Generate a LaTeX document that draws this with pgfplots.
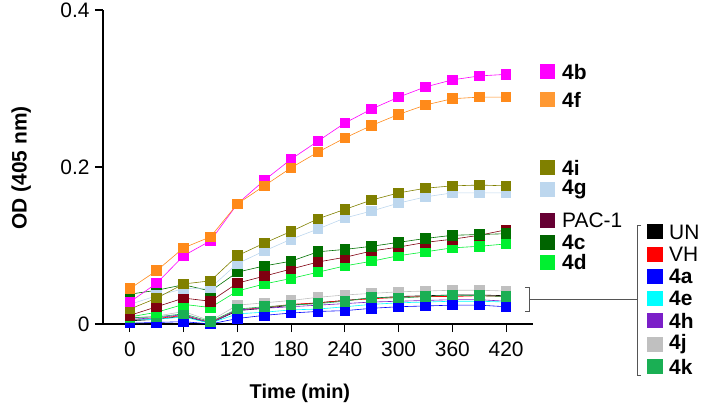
\documentclass[border=0pt]{standalone}
\usepackage{pgfplots}
\usepackage{pgfplotstable}
\pgfplotsset{compat=1.18}
\usepackage{fontspec}
\setmainfont{Liberation Sans}

\definecolor{cB}{HTML}{FF00FF}
\definecolor{cF}{HTML}{FF8A1A}
\definecolor{cFleg}{HTML}{FF9933}
\definecolor{cI}{HTML}{808000}
\definecolor{cG}{HTML}{BDD7EE}
\definecolor{cPAC}{HTML}{800010}
\definecolor{cPACleg}{HTML}{660033}
\definecolor{cC}{HTML}{007000}
\definecolor{cCleg}{HTML}{006400}
\definecolor{cD}{HTML}{00F030}
\definecolor{cUN}{HTML}{000000}
\definecolor{cVH}{HTML}{FF0000}
\definecolor{cA}{HTML}{0000FF}
\definecolor{cE}{HTML}{00FFFF}
\definecolor{cH}{HTML}{7B1FC8}
\definecolor{cJ}{HTML}{C0C0C0}
\definecolor{cK}{HTML}{1AAF54}
\definecolor{brk}{HTML}{555555}

\pgfplotstableread{
t   b      f      i      g      pac    c      d
0   0.028  0.045  0.019  0.025  0.011  0.038  0.009
30  0.052  0.068  0.033  0.036  0.022  0.043  0.015
60  0.087  0.097  0.051  0.045  0.033  0.050  0.025
90  0.106  0.111  0.055  0.046  0.029  0.042  0.021
120 0.153  0.153  0.087  0.077  0.052  0.066  0.042
150 0.183  0.176  0.103  0.093  0.061  0.074  0.051
180 0.210  0.199  0.118  0.108  0.070  0.080  0.058
210 0.233  0.219  0.134  0.121  0.079  0.092  0.066
240 0.256  0.237  0.146  0.135  0.085  0.095  0.074
270 0.274  0.253  0.158  0.144  0.093  0.099  0.080
300 0.289  0.267  0.167  0.154  0.098  0.104  0.087
330 0.302  0.279  0.173  0.162  0.104  0.109  0.092
360 0.311  0.287  0.176  0.167  0.108  0.113  0.097
390 0.316  0.289  0.177  0.167  0.113  0.114  0.099
420 0.318  0.289  0.176  0.167  0.120  0.115  0.102
}\tabup

\pgfplotstableread{
t   un     vh     a      e      h      j      k
0   0.004  0.005  0.001  0.005  0.006  0.008  0.008
30  0.006  0.007  0.002  0.006  0.008  0.010  0.009
60  0.010  0.011  0.003  0.009  0.012  0.016  0.013
90  0.001  0.002  0.000  0.001  0.001  0.004  0.003
120 0.017  0.018  0.007  0.013  0.018  0.024  0.019
150 0.020  0.021  0.011  0.015  0.020  0.027  0.022
180 0.024  0.025  0.014  0.018  0.022  0.030  0.024
210 0.027  0.027  0.016  0.019  0.024  0.034  0.026
240 0.030  0.030  0.017  0.022  0.026  0.037  0.029
270 0.033  0.032  0.020  0.025  0.028  0.039  0.034
300 0.035  0.034  0.022  0.027  0.029  0.041  0.033
330 0.036  0.035  0.023  0.028  0.030  0.042  0.035
360 0.037  0.035  0.024  0.029  0.031  0.043  0.037
390 0.037  0.036  0.024  0.029  0.031  0.043  0.036
420 0.036  0.035  0.022  0.028  0.029  0.042  0.035
}\tablow

\pgfplotsset{
  ser/.style={color=#1, line width=0.6pt, mark=square*, mark size=4.8pt,
    mark options={solid, fill=#1, draw=#1, line width=0pt}},
}

\begin{document}
\begin{tikzpicture}
\path[use as bounding box] (0,0) rectangle (703bp,411bp);
\begin{axis}[
  at={(103bp,87bp)}, anchor=south west,
  scale only axis, width=430bp, height=314bp,
  xmin=-30, xmax=450, ymin=0, ymax=0.4,
  axis lines*=left,
  axis line style={line width=1.3pt},
  xtick={0,60,...,420}, ytick={0,0.2,0.4},
  tick align=outside, major tick length=8bp,
  tick style={black, line width=1.2pt},
  /pgf/number format/assume math mode=true,
  tick label style={font=\fontsize{21}{25}\selectfont},
  yticklabel style={/pgf/number format/fixed, xshift=-2bp},
  xticklabel style={yshift=-6bp},
  xlabel={\textbf{Time (min)}},
  ylabel={\textbf{OD (405 nm)}},
  xlabel style={font=\fontsize{20}{24}\selectfont, at={(axis description cs:0.458,-0.22)}, anchor=center},
  ylabel style={font=\fontsize{21}{25}\selectfont, at={(axis description cs:-0.19,0.497)}, anchor=center},
  clip=false,
]
\addplot[ser=cUN] table[x=t, y=un] {\tablow};
\addplot[ser=cVH] table[x=t, y=vh] {\tablow};
\addplot[ser=cH]  table[x=t, y=h]  {\tablow};
\addplot[ser=cJ]  table[x=t, y=j]  {\tablow};
\addplot[ser=cE]  table[x=t, y=e]  {\tablow};
\addplot[ser=cA]  table[x=t, y=a]  {\tablow};
\addplot[ser=cK]  table[x=t, y=k]  {\tablow};
\addplot[ser=cD]   table[x=t, y=d]   {\tabup};
\addplot[ser=cPAC] table[x=t, y=pac] {\tabup};
\addplot[ser=cC]   table[x=t, y=c]   {\tabup};
\addplot[ser=cG]   table[x=t, y=g]   {\tabup};
\addplot[ser=cI]   table[x=t, y=i]   {\tabup};
\addplot[ser=cB]   table[x=t, y=b]   {\tabup};
\addplot[ser=cF]   table[x=t, y=f]   {\tabup};
\end{axis}

% legend (left column)
\def\legsz{\fontsize{21}{24}\selectfont}
\foreach \yy/\cc/\lab/\bb in {72/cB/4b/1, 99.5/cFleg/4f/1, 167.5/cI/4i/1, 189.5/cG/4g/1, 220.5/cPACleg/PAC-1/0, 242.5/cCleg/4c/1, 262.5/cD/4d/1}{
  \fill[\cc] (540bp,{(411-\yy-7.5)*1bp}) rectangle (555bp,{(411-\yy+7.5)*1bp});
  \ifnum\bb=1
    \node[anchor=west, inner sep=0pt, font=\legsz\bfseries] at (562bp,{(411-\yy)*1bp}) {\lab};
  \else
    \node[anchor=west, inner sep=0pt, font=\legsz] at (562bp,{(411-\yy)*1bp}) {\lab};
  \fi
}
% legend (right column)
\foreach \yy/\cc/\lab/\bb in {232/cUN/UN/0, 254.5/cVH/VH/0, 276.5/cA/4a/1, 298.5/cE/4e/1, 320.5/cH/4h/1, 344.5/cJ/4j/1, 366.5/cK/4k/1}{
  \fill[\cc] (647bp,{(411-\yy-7.5)*1bp}) rectangle (663bp,{(411-\yy+7.5)*1bp});
  \ifnum\bb=1
    \node[anchor=west, inner sep=0pt, font=\legsz\bfseries] at (669bp,{(411-\yy)*1bp}) {\lab};
  \else
    \node[anchor=west, inner sep=0pt, font=\legsz] at (669bp,{(411-\yy)*1bp}) {\lab};
  \fi
}
% brackets
\draw[brk, line width=0.7pt] (525bp,124bp) -- (529bp,124bp) -- (529bp,100bp) -- (525bp,100bp);
\draw[brk, line width=0.7pt] (529bp,112bp) -- (637bp,112bp);
\draw[brk, line width=0.7pt] (641bp,186bp) -- (637bp,186bp) -- (637bp,36bp) -- (641bp,36bp);
\end{tikzpicture}
\end{document}
